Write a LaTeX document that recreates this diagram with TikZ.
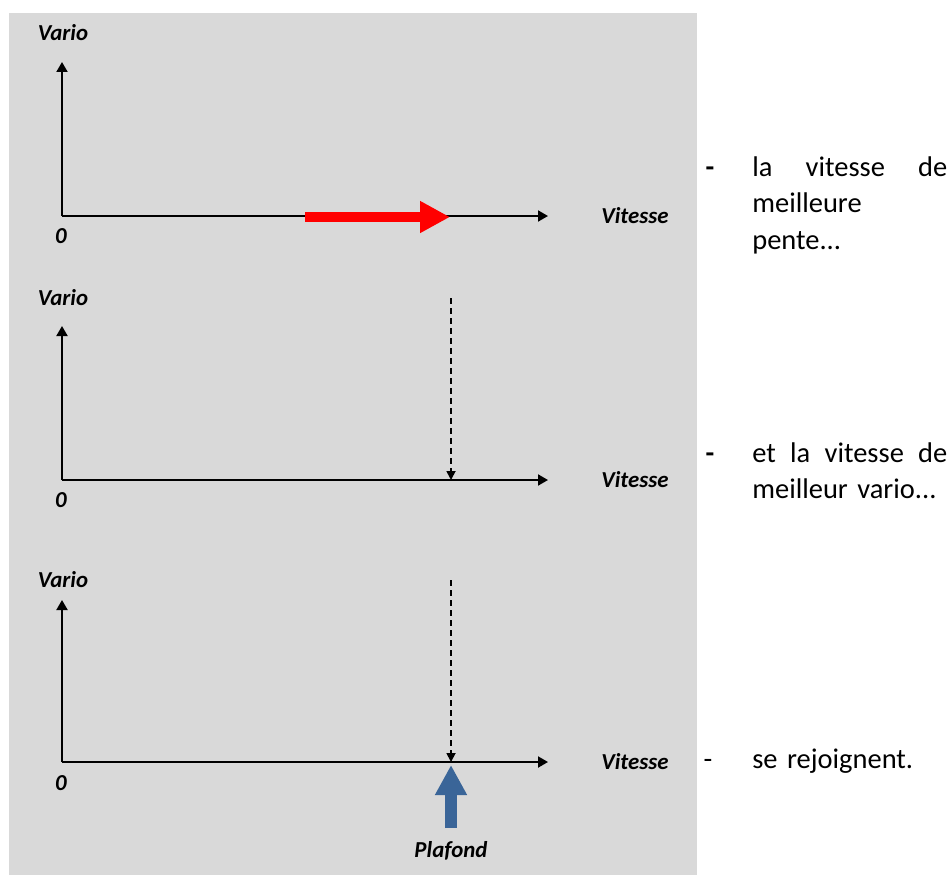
\documentclass[tikz,border=0pt]{standalone}
\usepackage{fontspec}
\setmainfont{Carlito}
\usetikzlibrary{arrows.meta,positioning,calc}
\definecolor{panelgrey}{HTML}{D9D9D9}
\definecolor{ceilblue}{HTML}{3A6598}
\definecolor{slopered}{HTML}{FF0000}
\tikzset{
  axis/.style   = {-{Triangle[length=2mm,width=2.2mm]}, line width=1.1pt},
  guide/.style  = {-{Triangle[length=1.8mm,width=1.8mm]}, line width=1pt,
                   dash pattern=on 3.4pt off 2.3pt},
  fat/.style    = {-{Triangle[length=6mm,width=6mm]}, line width=2mm},
  lbl/.style    = {font=\fontsize{13}{15}\selectfont\bfseries\itshape, inner sep=0pt},
  note/.style   = {font=\fontsize{16.2}{21}\selectfont, inner sep=0pt,
                   text width=3.9cm, align=left},
  hyph/.style   = {font=\fontsize{16.2}{21}\selectfont, inner sep=0pt},
}
\begin{document}
\begin{tikzpicture}[x=0.02cm, y=-0.02cm]
  \useasboundingbox (0,0) rectangle (952,875);
  \fill[panelgrey] (9,13) rectangle (697,875);

  % panel 1
  \coordinate (o1) at (62,216);
  \coordinate (y1) at (62,62);
  \coordinate (x1) at (548,216);
  \node[lbl, anchor=base] (vario1) at (63,41) {Vario};
  \node[lbl, anchor=base] (zero1) at (61,243) {0};
  \node[lbl, anchor=base] (vit1) at (635,223) {Vitesse};
  \draw[axis] (o1) -- (y1);
  \draw[axis] (o1) -- (x1);
  \coordinate (rs) at (305,217);
  \coordinate (re) at (450,217);
  \draw[fat, slopered] (rs) -- (re);

  % panel 2
  \coordinate (o2) at (62,480);
  \coordinate (y2) at (62,326);
  \coordinate (x2) at (548,480);
  \node[lbl, anchor=base] (vario2) at (63,305) {Vario};
  \node[lbl, anchor=base] (zero2) at (61,507) {0};
  \node[lbl, anchor=base] (vit2) at (635,487) {Vitesse};
  \draw[axis] (o2) -- (y2);
  \draw[axis] (o2) -- (x2);
  \coordinate (d2) at (451,298);
  \coordinate (m2) at (451,480);
  \draw[guide] (d2) -- (m2);

  % panel 3
  \coordinate (o3) at (62,762);
  \coordinate (y3) at (62,600);
  \coordinate (x3) at (548,762);
  \node[lbl, anchor=base] (vario3) at (63,587) {Vario};
  \node[lbl, anchor=base] (zero3) at (61,790) {0};
  \node[lbl, anchor=base] (vit3) at (635,769) {Vitesse};
  \draw[axis] (o3) -- (y3);
  \draw[axis] (o3) -- (x3);
  \coordinate (d3) at (451,580);
  \coordinate (m3) at (451,762);
  \draw[guide] (d3) -- (m3);
  \node[lbl, anchor=base] (plaf) at (451,857) {Plafond};
  \coordinate (bs) at (451,828);
  \coordinate (be) at (451,765);
  \draw[fat, ceilblue, line width=2.4mm] (bs) -- (be);

  % comments on the right
  \node[hyph, anchor=base] (h1) at (710,176) {\textbf{-}};
  \node[note, anchor=base west] (t1) at (752,176)
    {la\hfill vitesse\hfill de\\ meilleure\\ pente{.}{.}{.}};
  \node[hyph, anchor=base] (h2) at (710,462) {\textbf{-}};
  \node[note, anchor=base west] (t2) at (752,462)
    {et\hfill la\hfill vitesse\hfill de\\ meilleur vario{.}{.}{.}};
  \node[hyph, anchor=base] (h3) at (708,768) {-};
  \node[note, anchor=base west] (t3) at (752,768) {se rejoignent.};
\end{tikzpicture}
\end{document}
